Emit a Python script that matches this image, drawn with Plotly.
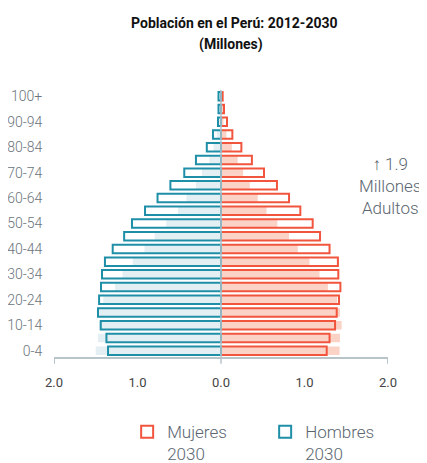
import plotly.graph_objects as go

ages = ['0-4', '5-9', '10-14', '15-19', '20-24', '25-29', '30-34', '35-39',
        '40-44', '45-49', '50-54', '55-59', '60-64', '65-69', '70-74',
        '75-79', '80-84', '85-89', '90-94', '95-99', '100+']

# millones
hombres_2012 = [1.50, 1.475, 1.46, 1.46, 1.41, 1.27, 1.18, 1.057, 0.917, 0.795,
                0.655, 0.515, 0.415, 0.30, 0.23, 0.14, 0.09, 0.05, 0.02, 0.01, 0.005]
mujeres_2012 = [1.42, 1.425, 1.445, 1.425, 1.39, 1.28, 1.18, 1.06, 0.92, 0.815,
                0.675, 0.545, 0.44, 0.345, 0.265, 0.20, 0.13, 0.065, 0.03, 0.015, 0.01]
hombres_2030 = [1.353, 1.372, 1.44, 1.473, 1.46, 1.437, 1.425, 1.39, 1.297, 1.16,
                1.066, 0.91, 0.76, 0.606, 0.44, 0.30, 0.17, 0.096, 0.036, 0.03, 0.03]
mujeres_2030 = [1.266, 1.30, 1.366, 1.386, 1.413, 1.43, 1.405, 1.40, 1.30, 1.186,
                1.098, 0.95, 0.815, 0.67, 0.515, 0.37, 0.244, 0.136, 0.072, 0.036, 0.02]

x_ticks = [-2, -1, 0, 1, 2]
x_ticktext = ['2.0', '1.0', '0.0', '1.0', '2.0']

RED = '#F2553E'
TEAL = '#1F8FA8'
PINK = '#FBD2C6'
LIGHTBLUE = '#E4EFF4'
GRAY = '#5B6670'
FONT = 'Roboto, sans-serif'

fig = go.Figure()

fig.add_trace(go.Bar(y=ages, x=[-v for v in hombres_2012], orientation='h',
                     marker=dict(color=LIGHTBLUE, line=dict(width=0)),
                     showlegend=False, name='Hombres 2012'))
fig.add_trace(go.Bar(y=ages, x=mujeres_2012, orientation='h',
                     marker=dict(color=PINK, line=dict(width=0)),
                     showlegend=False, name='Mujeres 2012'))
fig.add_trace(go.Bar(y=ages, x=mujeres_2030, orientation='h',
                     marker=dict(color='rgba(0,0,0,0)', line=dict(color=RED, width=2)),
                     name='Mujeres<br>2030'))
fig.add_trace(go.Bar(y=ages, x=[-v for v in hombres_2030], orientation='h',
                     marker=dict(color='rgba(0,0,0,0)', line=dict(color=TEAL, width=2)),
                     name='Hombres<br>2030'))

# linea del cero
fig.add_shape(type='line', xref='x', yref='paper', x0=0, x1=0, y0=-0.025, y1=1.0,
              line=dict(color='#B9C3CA', width=1.5), layer='above')
# marcas en 2.0
for xv in [-2, 2]:
    fig.add_shape(type='line', xref='x', yref='paper', x0=xv, x1=xv, y0=0, y1=-0.025,
                  line=dict(color='#B9C3CA', width=2))

fig.add_annotation(x=1.005, y=0.64, xref='paper', yref='paper',
                   xanchor='center', yanchor='middle',
                   text='↑ 1.9<br>Millones<br>Adultos', showarrow=False,
                   font=dict(family=FONT, size=17, color=GRAY, weight=300),
                   align='center')
fig.add_annotation(x=0.53, y=1.0, xref='paper', yref='paper',
                   xanchor='center', yanchor='bottom', yshift=35,
                   text='<b>(Millones)</b>', showarrow=False,
                   font=dict(family=FONT, size=14, color='#111111'))

fig.update_layout(
    width=427, height=463,
    margin=dict(l=46, r=47, t=82, b=114, autoexpand=False),
    paper_bgcolor='white', plot_bgcolor='white',
    barmode='overlay', bargap=0.33,
    title=dict(text='<b>Población en el Perú: 2012-2030</b>',
               x=0.53, xanchor='center', y=0.977, yanchor='top',
               font=dict(family=FONT, size=14, color='#111111')),
    xaxis=dict(range=[-2, 2], tickvals=x_ticks, ticktext=x_ticktext,
               showgrid=False, zeroline=False, showline=True, automargin=False,
               linecolor='#B9C3CA', linewidth=2,
               ticks='outside', ticklen=12, tickcolor='rgba(0,0,0,0)',
               tickfont=dict(family=FONT, size=13, color='#444444')),
    yaxis=dict(categoryorder='array', categoryarray=ages, automargin=False,
               tickvals=ages[::2], showgrid=False, zeroline=False,
               ticks='outside', ticklen=8, tickcolor='rgba(0,0,0,0)',
               tickfont=dict(family=FONT, size=14, color='#6B747C', weight=300)),
    legend=dict(orientation='h', x=0.219, y=-0.214, xanchor='left', yanchor='top',
                font=dict(family=FONT, size=17, color=GRAY, weight=300),
                itemsizing='constant', valign='top', traceorder='normal',
                entrywidth=93, bgcolor='rgba(0,0,0,0)'),
)

fig.write_html('out.html')
